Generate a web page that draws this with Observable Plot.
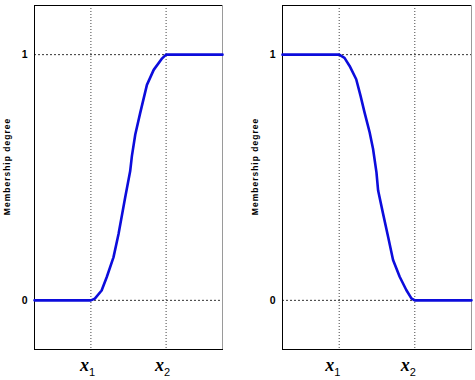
<!DOCTYPE html>
<html>
<head>
<meta charset="utf-8">
<script src="https://cdn.jsdelivr.net/npm/d3@7"></script>
<script src="https://cdn.jsdelivr.net/npm/@observablehq/plot@0.6"></script>
<style>
  html, body { margin: 0; padding: 0; background: #fff; }
  #wrap { position: relative; width: 475px; height: 380px; overflow: hidden; }
  #wrap > div, #wrap > svg { position: absolute; top: 0; }
</style>
</head>
<body>
<div id="wrap"></div>
<script>
// Tick positions and labels
const xTicks = [3, 7];
const xTickNames = ["x", "x"];
const xTickSubs = ["1", "2"];
const yTicks = [0, 1];
const yLabel = "Membership degree";

// Left panel: rising S-shaped membership function
const risingX = [0, 3, 3.21, 3.57, 3.84, 4.20, 4.47, 4.82, 5.09, 5.18, 5.36, 5.62, 5.98, 6.34, 6.79, 7, 10];
const risingY = [0, 0, 0.007, 0.040, 0.094, 0.175, 0.270, 0.418, 0.526, 0.587, 0.675, 0.762, 0.877, 0.938, 0.985, 1, 1];

// Right panel: falling Z-shaped membership function
const fallingX = [0, 3, 3.28, 3.55, 3.90, 4.13, 4.34, 4.61, 4.79, 4.97, 5.06, 5.32, 5.59, 5.85, 6.20, 6.55, 6.82, 7, 10];
const fallingY = [1, 1, 0.987, 0.954, 0.900, 0.832, 0.765, 0.684, 0.617, 0.522, 0.447, 0.353, 0.258, 0.164, 0.096, 0.042, 0.008, 0, 0];

const xDomain = [0, 10];
const yDomain = [-0.2, 1.2];

function panel(xs, ys, width, marginRight, labelDx) {
  const data = xs.map((x, i) => ({x, y: ys[i]}));
  const ticks = xTicks.map((x, i) => ({x, name: xTickNames[i], sub: xTickSubs[i]}));
  const svg = Plot.plot({
    width, height: 380,
    marginTop: 5, marginBottom: 31, marginLeft: 34, marginRight,
    style: {fontFamily: "Liberation Sans, Arial, sans-serif", background: "white", overflow: "visible"},
    x: {domain: xDomain, axis: null},
    y: {domain: yDomain, axis: null},
    marks: [
      Plot.ruleX(xTicks, {stroke: "#444", strokeDasharray: "1,2", strokeWidth: 1}),
      Plot.ruleY(yTicks, {stroke: "#333", strokeDasharray: "2,2", strokeWidth: 1}),
      Plot.frame({stroke: "#000", strokeWidth: 1}),
      Plot.ruleX([xDomain[1]], {stroke: "#9a9a9a", strokeWidth: 1}),
      Plot.line(data, {x: "x", y: "y", stroke: "#0c0cdc", strokeWidth: 2.6, strokeLinejoin: "round"}),
      Plot.axisY({ticks: yTicks, tickSize: 0, tickPadding: 7, label: null, tickFormat: d => String(d), fontSize: 10.5, fontWeight: "bold", fill: "#000"}),
      Plot.text([yLabel], {frameAnchor: "left", rotate: -90, textAnchor: "middle", dx: -27, dy: -11, text: d => d, fontSize: 8.5, fontWeight: "bold", fill: "#000"}),
      Plot.text(ticks, {x: "x", frameAnchor: "bottom", text: "name", textAnchor: "end", dx: labelDx, dy: 21, fontFamily: "Liberation Serif, Times New Roman, serif", fontStyle: "italic", fontWeight: "bold", fontSize: 18, fill: "#000"}),
      Plot.text(ticks, {x: "x", frameAnchor: "bottom", text: "sub", textAnchor: "start", dx: labelDx, dy: 26, fontSize: 11, fill: "#000"})
    ]
  });
  svg.querySelectorAll("text").forEach(t => {
    if (t.textContent === yLabel) t.style.letterSpacing = "1px";
  });
  return svg;
}

const wrap = document.getElementById("wrap");
const left = panel(risingX, risingY, 230, 8, -2);
left.style.left = "0px";
const right = panel(fallingX, fallingY, 227, 4, -5);
right.style.left = "248px";
wrap.appendChild(left);
wrap.appendChild(right);
</script>
</body>
</html>
